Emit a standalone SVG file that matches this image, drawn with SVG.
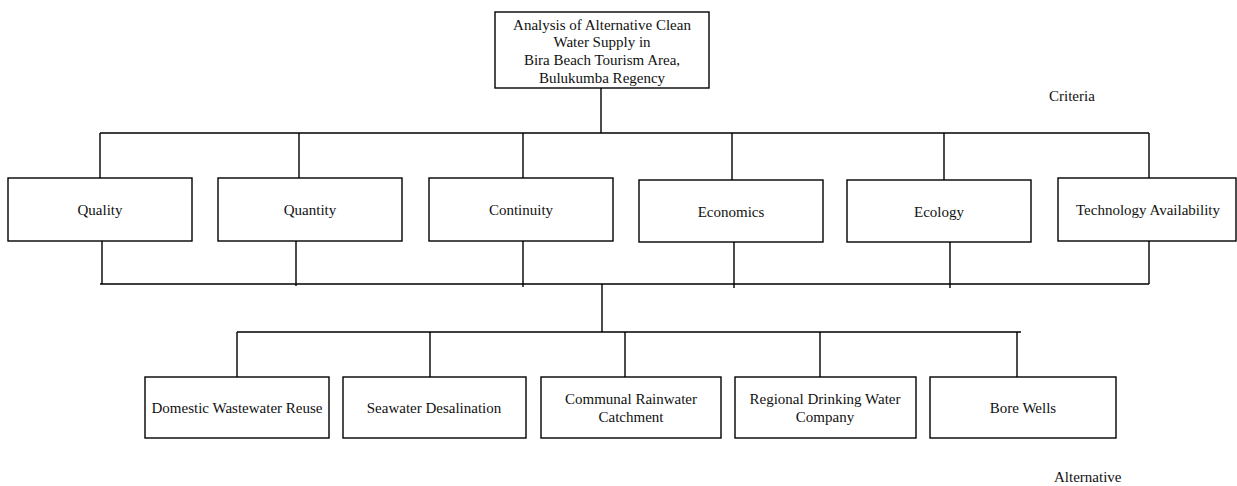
<svg xmlns="http://www.w3.org/2000/svg" width="1237" height="486" viewBox="0 0 1237 486">
<style>
.box{fill:#fff;stroke:#000;stroke-width:1.4}
.ln{stroke:#000;stroke-width:1.4;fill:none}
text{font-family:"Liberation Serif","Times New Roman",serif;font-size:15px;fill:#111;text-anchor:middle}
.lbl{text-anchor:start}
</style>
<rect width="1237" height="486" fill="#fff"/>
<g id="connectors">
<path class="ln" d="M601 88V133M100 133H1149M100 133V178M299 133V178M523 133V178M732 133V180M944 133V180M1149 133V178"/>
<path class="ln" d="M102 241V284M296 241V286M523 241V287M734 242V288M950 242V288M1149 241V284M100 284H1149"/>
<path class="ln" d="M602 284V332M237 332H1021M237 332V377M430 332V377M625 332V377M820 332V377M1017 332V377"/>
</g>
<g id="goal">
<rect class="box" x="495" y="12" width="214" height="76"/>
<text x="602" y="30">Analysis of Alternative Clean</text>
<text x="602" y="47">Water Supply in</text>
<text x="602" y="65">Bira Beach Tourism Area,</text>
<text x="602" y="83">Bulukumba Regency</text>
</g>
<g id="criteria-label"><text class="lbl" x="1049" y="101">Criteria</text></g>
<g id="quality"><rect class="box" x="8" y="178" width="184" height="63"/><text x="100" y="215">Quality</text></g>
<g id="quantity"><rect class="box" x="218" y="178" width="184" height="63"/><text x="310" y="215">Quantity</text></g>
<g id="continuity"><rect class="box" x="429" y="178" width="184" height="63"/><text x="521" y="215">Continuity</text></g>
<g id="economics"><rect class="box" x="639" y="180" width="184" height="62"/><text x="731" y="217">Economics</text></g>
<g id="ecology"><rect class="box" x="847" y="180" width="184" height="62"/><text x="939" y="217">Ecology</text></g>
<g id="technology"><rect class="box" x="1058" y="178" width="178" height="63"/><text x="1148" y="215">Technology Availability</text></g>
<g id="domestic"><rect class="box" x="145" y="377" width="184" height="61"/><text x="237" y="413">Domestic Wastewater Reuse</text></g>
<g id="seawater"><rect class="box" x="343" y="377" width="183" height="61"/><text x="434" y="413">Seawater Desalination</text></g>
<g id="communal"><rect class="box" x="541" y="377" width="180" height="61"/><text x="631" y="404">Communal Rainwater</text><text x="631" y="422">Catchment</text></g>
<g id="regional"><rect class="box" x="735" y="377" width="181" height="61"/><text x="825" y="404">Regional Drinking Water</text><text x="825" y="422">Company</text></g>
<g id="borewells"><rect class="box" x="930" y="377" width="186" height="61"/><text x="1023" y="413">Bore Wells</text></g>
<g id="alternative-label"><text class="lbl" x="1054" y="482">Alternative</text></g>
</svg>
